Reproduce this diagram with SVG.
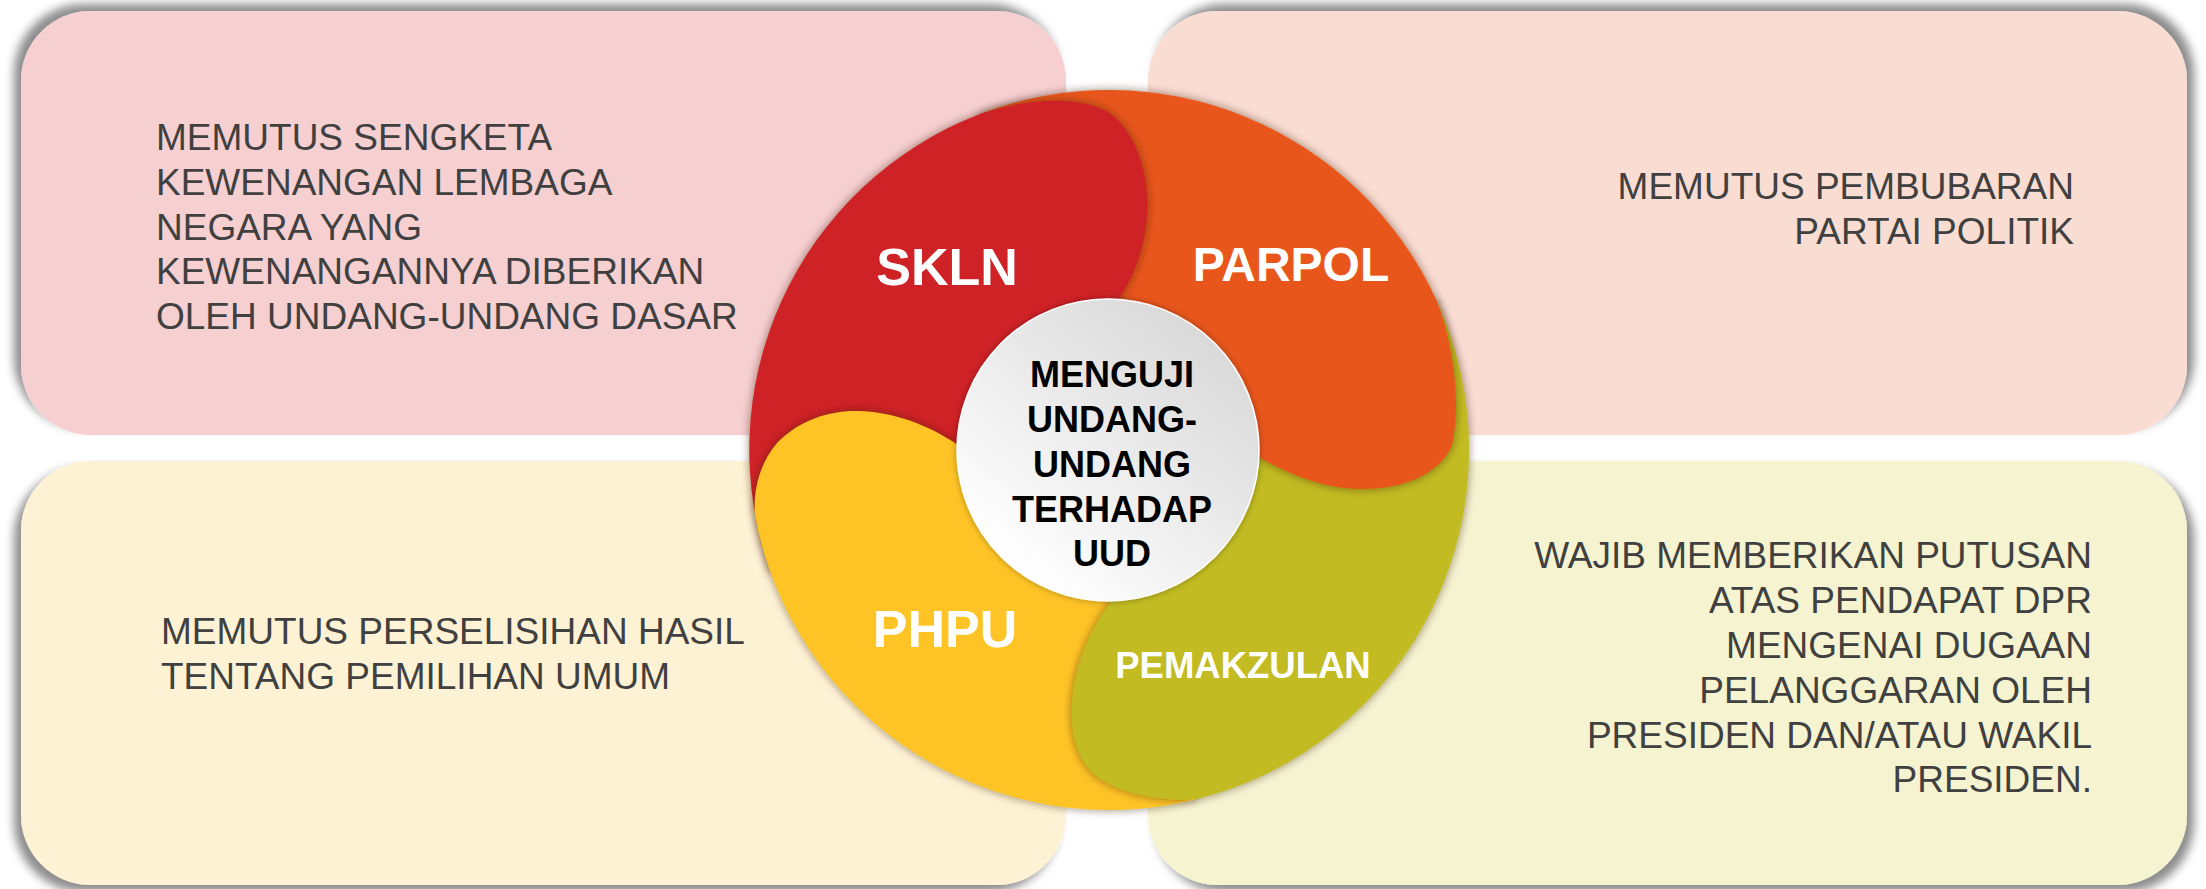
<svg xmlns="http://www.w3.org/2000/svg" width="2206" height="889" viewBox="0 0 2206 889">
<style>
.desc{font-family:"Liberation Sans",Arial,sans-serif;font-size:37px;fill:#404040}
.end{text-anchor:end}
.lbl{font-family:"Liberation Sans",Arial,sans-serif;font-weight:bold;fill:#ffffff;text-anchor:middle}
.ctr{font-family:"Liberation Sans",Arial,sans-serif;font-weight:bold;font-size:36px;fill:#000000;text-anchor:middle}
</style>
<defs>
<filter id="shTL" x="-5%" y="-10%" width="110%" height="120%"><feDropShadow dx="-7" dy="-7" stdDeviation="5" flood-color="#000" flood-opacity="0.45"/></filter>
<filter id="shTR" x="-5%" y="-10%" width="110%" height="120%"><feDropShadow dx="7" dy="-7" stdDeviation="5" flood-color="#000" flood-opacity="0.45"/></filter>
<filter id="shBL" x="-5%" y="-10%" width="110%" height="120%"><feDropShadow dx="-7" dy="7" stdDeviation="5" flood-color="#000" flood-opacity="0.45"/></filter>
<filter id="shBR" x="-5%" y="-10%" width="110%" height="120%"><feDropShadow dx="7" dy="7" stdDeviation="5" flood-color="#000" flood-opacity="0.45"/></filter>
<filter id="pet" x="-10%" y="-10%" width="120%" height="120%"><feDropShadow dx="0" dy="0" stdDeviation="4" flood-color="#3a1a00" flood-opacity="0.55"/></filter>
<filter id="ctrSh" x="-10%" y="-10%" width="120%" height="120%"><feDropShadow dx="0" dy="0" stdDeviation="3" flood-color="#000" flood-opacity="0.35"/></filter>
<linearGradient id="ctrGrad" x1="0.85" y1="0.1" x2="0.2" y2="0.9">
<stop offset="0" stop-color="#D8D8D8"/>
<stop offset="1" stop-color="#FFFFFF"/>
</linearGradient>
<clipPath id="oliveClip"><rect x="900" y="540" width="360" height="290"/></clipPath>
<clipPath id="discClip"><circle cx="1109" cy="450" r="359.5"/></clipPath>
<path id="olivePath" d="M 1109 450 L 1436.3 300 A 360 360 0 0 1 1195 799.6 C 1165 801, 1130 796, 1105 782 C 1080 768, 1070 740, 1072 705 C 1074 665, 1090 630, 1112 600 Z"/>
</defs>
<rect x="0" y="0" width="2206" height="889" fill="#ffffff"/>

<g id="box-skln-desc">
<rect x="21" y="11" width="1045" height="424" rx="70" ry="70" fill="#F6CFD0" filter="url(#shTL)"/>
<text class="desc" x="156" y="150">MEMUTUS SENGKETA</text>
<text class="desc" x="156" y="195">KEWENANGAN LEMBAGA</text>
<text class="desc" x="156" y="240">NEGARA YANG</text>
<text class="desc" x="156" y="284">KEWENANGANNYA DIBERIKAN</text>
<text class="desc" x="156" y="329">OLEH UNDANG-UNDANG DASAR</text>
</g>
<g id="box-parpol-desc">
<rect x="1148" y="11" width="1039" height="424" rx="70" ry="70" fill="#F9DCD2" filter="url(#shTR)"/>
<text class="desc end" x="2074" y="199">MEMUTUS PEMBUBARAN</text>
<text class="desc end" x="2074" y="244">PARTAI POLITIK</text>
</g>
<g id="box-phpu-desc">
<rect x="21" y="461" width="1045" height="424" rx="70" ry="70" fill="#FEF2D4" filter="url(#shBL)"/>
<text class="desc" x="161" y="644">MEMUTUS PERSELISIHAN HASIL</text>
<text class="desc" x="161" y="689">TENTANG PEMILIHAN UMUM</text>
</g>
<g id="box-pemakzulan-desc">
<rect x="1148" y="461" width="1039" height="424" rx="70" ry="70" fill="#F5F3D0" filter="url(#shBR)"/>
<text class="desc end" x="2092" y="568">WAJIB MEMBERIKAN PUTUSAN</text>
<text class="desc end" x="2092" y="613">ATAS PENDAPAT DPR</text>
<text class="desc end" x="2092" y="658">MENGENAI DUGAAN</text>
<text class="desc end" x="2092" y="703">PELANGGARAN OLEH</text>
<text class="desc end" x="2092" y="748">PRESIDEN DAN/ATAU WAKIL</text>
<text class="desc end" x="2092" y="792">PRESIDEN.</text>
</g>

<g id="connectors"></g>

<g id="petal-pemakzulan">
<use href="#olivePath" fill="#C2BB21" filter="url(#pet)"/>
</g>
<g id="petal-parpol">
<path d="M 1109 450 L 980 113.9 A 360 360 0 0 1 1436.3 300 C 1452 340, 1462 400, 1452 445 C 1440 475, 1400 490, 1360 489 C 1320 488, 1285 472, 1255 455 Z" fill="#E8561C" filter="url(#pet)"/>
</g>
<g id="petal-skln">
<path d="M 1109 450 L 771 573 A 360 360 0 0 1 980 113.9 C 1025 100, 1075 94, 1108 112 C 1138 132, 1150 180, 1147 215 C 1144 250, 1135 275, 1118 300 Z" fill="#CF2027" filter="url(#pet)"/>
</g>
<g id="petal-phpu">
<path d="M 1109 450 L 1195 799.6 A 360 360 0 0 1 755 515 C 753 490, 760 462, 778 442 C 800 420, 830 410, 860 411 C 900 413, 935 428, 965 450 Z" fill="#FEC425" filter="url(#pet)"/>
</g>
<g id="petal-pemakzulan-overlap" clip-path="url(#discClip)">
<g clip-path="url(#oliveClip)">
<use href="#olivePath" fill="#C2BB21" filter="url(#pet)"/>
</g>
</g>

<g id="labels">
<text class="lbl" x="947" y="285" font-size="52">SKLN</text>
<text class="lbl" x="1291" y="281" font-size="48">PARPOL</text>
<text class="lbl" x="945" y="647" font-size="52">PHPU</text>
<text class="lbl" x="1243" y="678" font-size="36.5">PEMAKZULAN</text>
</g>

<g id="center-node">
<circle cx="1108" cy="450" r="151" fill="url(#ctrGrad)" stroke="#ffffff" stroke-width="1.5" filter="url(#ctrSh)"/>
<text class="ctr" x="1112" y="387">MENGUJI</text>
<text class="ctr" x="1112" y="432">UNDANG-</text>
<text class="ctr" x="1112" y="476.5">UNDANG</text>
<text class="ctr" x="1112" y="521.5">TERHADAP</text>
<text class="ctr" x="1112" y="566">UUD</text>
</g>
</svg>
